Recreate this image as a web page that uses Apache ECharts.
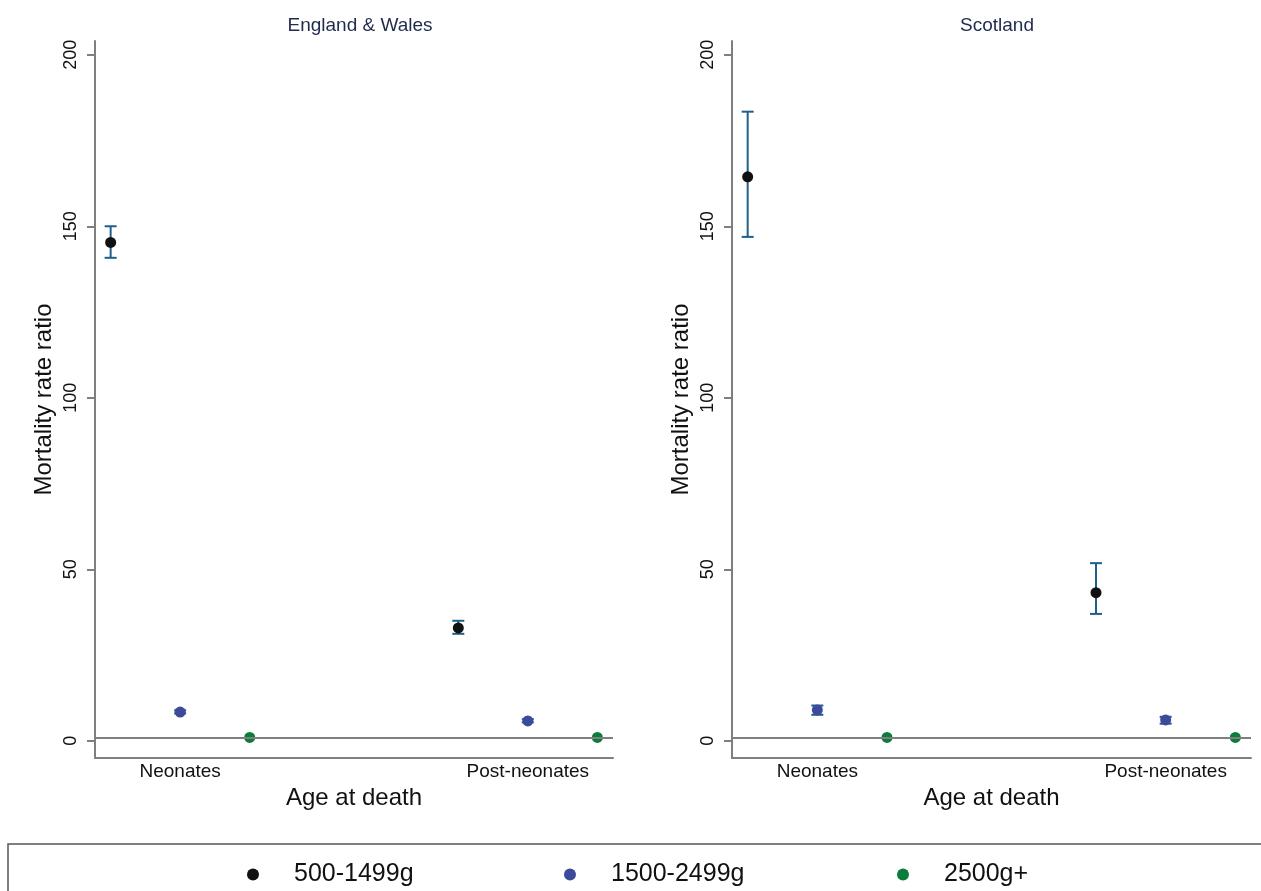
<!DOCTYPE html>
<html>
<head>
<meta charset="utf-8">
<script src="https://cdn.jsdelivr.net/npm/echarts@6/dist/echarts.min.js"></script>
<style>
  html, body { margin: 0; padding: 0; background: #fff; }
  #chart { width: 1261px; height: 891px; }
</style>
</head>
<body>
<div id="chart"></div>
<script>
// Age groups on the x axis and birthweight groups as marker series
const ageGroups = ['Neonates', 'Post-neonates'];
const weightGroups = ['500-1499g', '1500-2499g', '2500g+'];
const panelTitles = ['England & Wales', 'Scotland'];
const yTicks = [0, 50, 100, 150, 200];

// Mortality rate ratios [weight group][age group] with 95% CI bounds
const ewEstimate = [[145.3, 32.9], [8.4, 5.8], [1, 1]];
const ewLower    = [[140.8, 31.2], [8.0, 5.4], [1, 1]];
const ewUpper    = [[150.0, 35.0], [8.9, 6.3], [1, 1]];

const scEstimate = [[164.4, 43.2], [9.0, 6.1], [1, 1]];
const scLower    = [[146.9, 37.0], [7.6, 5.0], [1, 1]];
const scUpper    = [[183.4, 51.8], [10.3, 7.0], [1, 1]];

const markerColors = ['#111111', '#3d4a9c', '#0a7d3b'];
const ciColor = '#1e5f8c';
const axisGray = '#7f7f7f';
const FONT = "'Liberation Sans', Arial, sans-serif";
const groupOffset = [-0.2, 0, 0.2];

function xPos(ageIdx, wIdx) { return ageIdx + 1 + groupOffset[wIdx]; }

const panels = [
  { est: ewEstimate, lo: ewLower, hi: ewUpper },
  { est: scEstimate, lo: scLower, hi: scUpper }
];

const grids = [
  { left: 95, right: 648, top: 41, bottom: 133 },
  { left: 732, right: 10, top: 41, bottom: 133 }
];

const xAxes = grids.map((g, i) => ({
  type: 'value', gridIndex: i, min: 0.755, max: 2.245,
  splitLine: { show: false },
  axisLine: { show: true, onZero: false, lineStyle: { color: axisGray, width: 2 } },
  axisTick: { show: false },
  axisLabel: {
    customValues: [1, 2], margin: 4,
    formatter: v => ageGroups[Math.round(v) - 1] || '',
    fontFamily: FONT, fontSize: 19, color: '#111'
  },
  name: 'Age at death', nameLocation: 'middle', nameGap: 26,
  nameTextStyle: { fontFamily: FONT, fontSize: 24, color: '#111' }
}));

const yAxes = grids.map((g, i) => ({
  type: 'value', gridIndex: i, min: -5, max: 204,
  splitLine: { show: false },
  axisLine: { show: true, lineStyle: { color: axisGray, width: 2 } },
  axisTick: { show: true, customValues: yTicks, length: 8, lineStyle: { color: axisGray, width: 2 } },
  axisLabel: {
    customValues: yTicks, rotate: 90, margin: 15,
    fontFamily: FONT, fontSize: 18, color: '#111'
  },
  name: 'Mortality rate ratio', nameLocation: 'middle', nameGap: 39, nameRotate: 90,
  nameTextStyle: { fontFamily: FONT, fontSize: 24, color: '#111' }
}));

const series = [];
panels.forEach((p, pi) => {
  // confidence interval whiskers
  const ciData = [];
  weightGroups.forEach((w, wi) => {
    ageGroups.forEach((a, ai) => {
      if (p.hi[wi][ai] > p.lo[wi][ai]) ciData.push([xPos(ai, wi), p.lo[wi][ai], p.hi[wi][ai]]);
    });
  });
  series.push({
    type: 'custom', xAxisIndex: pi, yAxisIndex: pi, silent: true, z: 2,
    data: ciData,
    renderItem: (params, api) => {
      const x = api.value(0);
      const lo = api.coord([x, api.value(1)]);
      const hi = api.coord([x, api.value(2)]);
      const cap = 6;
      const style = { stroke: ciColor, lineWidth: 2 };
      return {
        type: 'group',
        children: [
          { type: 'line', shape: { x1: lo[0], y1: lo[1], x2: hi[0], y2: hi[1] }, style },
          { type: 'line', shape: { x1: lo[0] - cap, y1: lo[1], x2: lo[0] + cap, y2: lo[1] }, style },
          { type: 'line', shape: { x1: hi[0] - cap, y1: hi[1], x2: hi[0] + cap, y2: hi[1] }, style }
        ]
      };
    },
    markLine: {
      silent: true, symbol: 'none', label: { show: false },
      lineStyle: { color: axisGray, width: 2, type: 'solid' },
      data: [{ yAxis: 1 }]
    }
  });
  // point estimates
  weightGroups.forEach((w, wi) => {
    series.push({
      name: w, type: 'scatter', xAxisIndex: pi, yAxisIndex: pi, z: 3,
      symbol: 'circle', symbolSize: 11,
      itemStyle: { color: markerColors[wi], opacity: 1 },
      data: ageGroups.map((a, ai) => [xPos(ai, wi), p.est[wi][ai]])
    });
  });
});

// one legend per key so each entry sits at its own spot along the bottom box
const legendLefts = [242, 559, 892];
const legends = weightGroups.map((w, wi) => ({
  data: [w], left: legendLefts[wi], top: 857,
  icon: 'circle', itemWidth: 12, itemHeight: 12,
  selectedMode: false,
  textStyle: { fontFamily: FONT, fontSize: 25, color: '#111', padding: [0, 0, 0, 30] }
}));

const option = {
  backgroundColor: '#ffffff',
  animation: false,
  title: panelTitles.map((t, i) => ({
    text: t,
    left: i === 0 ? 355 : 992, top: 11,
    textAlign: 'center',
    textStyle: { fontFamily: FONT, fontSize: 19, fontWeight: 'normal', color: '#1f2a4d' }
  })),
  grid: grids,
  xAxis: xAxes,
  yAxis: yAxes,
  legend: legends,
  graphic: [{
    type: 'rect', silent: true, z: -1,
    shape: { x: 8, y: 844, width: 1260, height: 60 },
    style: { fill: 'none', stroke: '#555555', lineWidth: 1.5 }
  }],
  series: series
};

echarts.init(document.getElementById('chart'), null, { renderer: 'canvas' }).setOption(option);
</script>
</body>
</html>
